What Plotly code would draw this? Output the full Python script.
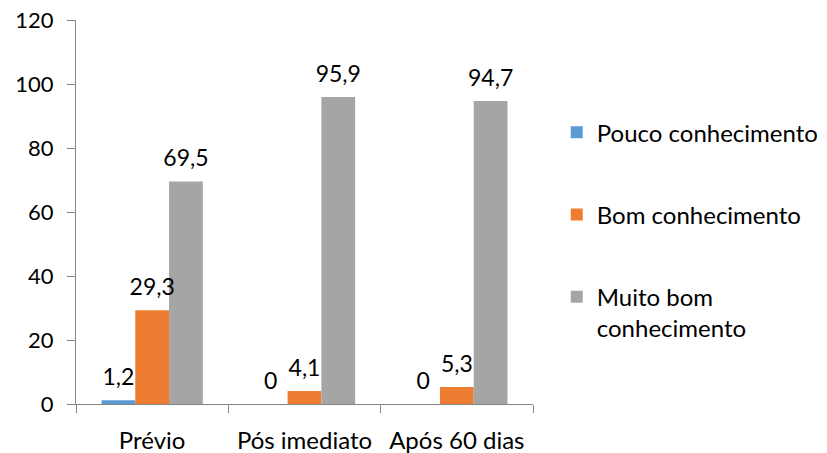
import plotly.graph_objects as go

categories = ["Prévio", "Pós imediato", "Após 60 dias"]
series_names = ["Pouco conhecimento", "Bom conhecimento", "Muito bom<br>conhecimento"]
pouco = [1.2, 0, 0]
bom = [29.3, 4.1, 5.3]
muito_bom = [69.5, 95.9, 94.7]
colors = ["#5B9BD5", "#ED7D31", "#A5A5A5"]
y_ticks = [0, 20, 40, 60, 80, 100, 120]

FONT = "Lato"
LABEL_PAD = 2.3  # extra space (axis units) between bar top and its value label

fig = go.Figure()
series = [pouco, bom, muito_bom]
for k, (name, vals, col) in enumerate(zip(series_names, series, colors)):
    fig.add_trace(go.Bar(
        x=categories, y=vals, name=name,
        marker=dict(color=col, line=dict(width=0)),
        offsetgroup=str(k), legendgroup=name, hoverinfo="skip",
    ))
# invisible label layer drawn above all bars
for k, (name, vals) in enumerate(zip(series_names, series)):
    fig.add_trace(go.Bar(
        x=categories, y=vals, base=LABEL_PAD, showlegend=False, offsetgroup=str(k),
        marker=dict(color="rgba(0,0,0,0)", line=dict(width=0)),
        text=[("%g" % v).replace(".", ",") for v in vals],
        textposition="outside", cliponaxis=False, constraintext="none",
        textfont=dict(family=FONT, size=23, color="#000000"),
        hovertemplate="%{x}: %{text}<extra></extra>",
    ))

fig.update_layout(
    width=827, height=453,
    margin=dict(l=76, r=294, t=20, b=49, autoexpand=False),
    paper_bgcolor="white", plot_bgcolor="white",
    barmode="group", bargap=0.335, bargroupgap=0,
    font=dict(family=FONT, size=24, color="#000000"),
    showlegend=True,
    legend=dict(x=1.052, y=0.765, xanchor="left", yanchor="top",
                tracegroupgap=48, valign="top",
                font=dict(family=FONT, size=24, color="#000000"),
                itemwidth=30, traceorder="grouped"),
    xaxis=dict(showline=True, linecolor="#868686", linewidth=1,
               ticks="outside", tickson="boundaries", ticklen=8,
               tickcolor="#868686", showgrid=False, automargin=False,
               ticklabelstandoff=15, ticklabeloverflow="allow",
               tickfont=dict(family=FONT, size=24)),
    yaxis=dict(range=[0, 120], tickvals=y_ticks, showline=True,
               linecolor="#868686", linewidth=1, ticks="outside",
               ticklen=8, tickcolor="#868686", showgrid=False,
               zeroline=False, ticklabelstandoff=9, automargin=False,
               ticklabeloverflow="allow",
               tickfont=dict(family=FONT, size=22)),
)
fig.write_html("out.html", config={"displayModeBar": False},
               post_script="document.body.style.margin='0px';")
